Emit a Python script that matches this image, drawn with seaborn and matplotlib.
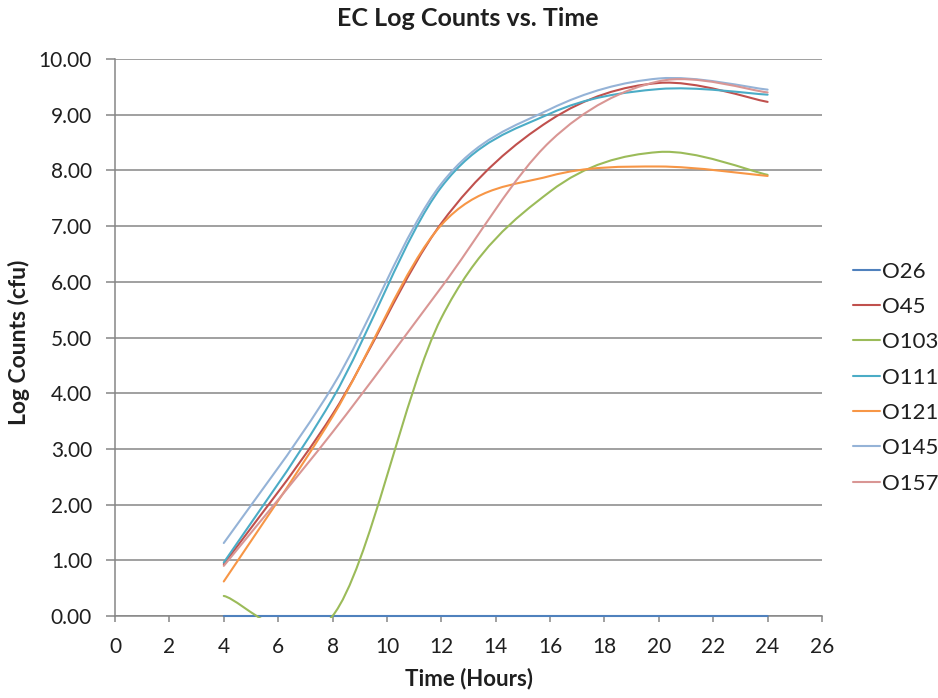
import numpy as np
import pandas as pd
import matplotlib
matplotlib.use("Agg")
import matplotlib.pyplot as plt
import seaborn as sns
from matplotlib.path import Path
from matplotlib.patches import PathPatch, Rectangle
from matplotlib.ticker import FormatStrFormatter, MultipleLocator

# ---------------- data ----------------
time_hours = [4, 8, 12, 16, 20, 24]
strains = ["O26", "O45", "O103", "O111", "O121", "O145", "O157"]
o26 = [0.00, 0.00, 0.00, 0.00, 0.00, 0.00]
o45 = [0.93, 3.62, 7.05, 8.90, 9.57, 9.23]
o103 = [0.36, 0.00, 5.35, 7.62, 8.33, 7.92]
o111 = [0.96, 3.90, 7.70, 9.02, 9.46, 9.36]
o121 = [0.62, 3.58, 7.02, 7.90, 8.07, 7.90]
o145 = [1.31, 4.12, 7.76, 9.10, 9.65, 9.45]
o157 = [0.90, 3.30, 5.90, 8.52, 9.60, 9.40]
series = [o26, o45, o103, o111, o121, o145, o157]

colors = ["#4F81BD", "#C0504D", "#9BBB59", "#4BACC6", "#F79646", "#95B3D7", "#D99694"]

rows = []
for name, vals in zip(strains, series):
    for t, v in zip(time_hours, vals):
        rows.append({"Time": t, "Log": v, "Strain": name})
df = pd.DataFrame(rows)

# ---------------- style ----------------
sns.set_theme(style="white")
plt.rcParams["font.family"] = ["Lato", "DejaVu Sans"]
grey = "#868686"
txt = "#1f1f1f"

fig = plt.figure(figsize=(9.38, 6.98), dpi=100)
L, R, B, T = 115, 822, 616, 59
W, H = 938, 698
ax = fig.add_axes([L / W, 1 - B / H, (R - L) / W, (B - T) / H])

sns.lineplot(data=df, x="Time", y="Log", hue="Strain", hue_order=strains,
             palette=colors, estimator=None, sort=True, linewidth=1.5, ax=ax)


def smooth_path(pts):
    """Excel-style smoothed line: cubic Bezier through the data points."""
    n = len(pts)
    verts = [pts[0]]
    codes = [Path.MOVETO]
    for i in range(n - 1):
        p0 = pts[i - 1] if i > 0 else pts[i]
        p1 = pts[i]
        p2 = pts[i + 1]
        p3 = pts[i + 2] if i + 2 < n else pts[i + 1]
        verts += [p1 + (p2 - p0) / 6.0, p2 - (p3 - p1) / 6.0, p2]
        codes += [Path.CURVE4] * 3
    return Path(np.array(verts), codes)


clip = Rectangle((-1, -0.04), 30, 10.2, transform=ax.transData)
for k, line in enumerate(list(ax.lines)):
    xy = line.get_xydata()
    if len(xy) < 2:
        continue
    patch = PathPatch(smooth_path(xy), fill=False, edgecolor=line.get_color(),
                      lw=line.get_linewidth(), capstyle="round", joinstyle="round",
                      zorder=3 + k * 0.01)
    ax.add_patch(patch)
    patch.set_clip_path(clip)
    line.remove()

ax.set_xlim(0, 26)
ax.set_ylim(0, 10)
ax.xaxis.set_major_locator(MultipleLocator(2))
ax.yaxis.set_major_locator(MultipleLocator(1))
ax.yaxis.set_major_formatter(FormatStrFormatter("%.2f"))
ax.yaxis.grid(True, color=grey, lw=1.1)
ax.xaxis.grid(False)
ax.set_axisbelow(True)
for s in ["top", "right"]:
    ax.spines[s].set_visible(False)
for s in ["left", "bottom"]:
    ax.spines[s].set_color(grey)
    ax.spines[s].set_linewidth(1.1)
ax.tick_params(axis="y", which="major", direction="out", length=6.5, width=1.1,
               color=grey, pad=10, labelsize=15, labelcolor=txt, left=True)
ax.tick_params(axis="x", which="major", direction="out", length=4, width=1.1,
               color=grey, pad=11, labelsize=15, labelcolor=txt, bottom=True)
ax.set_xlabel("")
ax.set_ylabel("")

fig.text(468 / W, 1 - 19 / H, "EC Log Counts vs. Time", ha="center", va="center",
         fontsize=18, fontweight="bold", color=txt)
fig.text(468.5 / W, 1 - 679 / H, "Time (Hours)", ha="center", va="center",
         fontsize=16, fontweight="bold", color=txt)
fig.text(19 / W, 1 - 342 / H, "Log Counts (cfu)", ha="center", va="center",
         rotation=90, fontsize=16.5, fontweight="bold", color=txt)

sns.move_legend(ax, "center left", bbox_to_anchor=(1.044, 0.428), frameon=False,
                title=None, fontsize=16, handlelength=1.22, handletextpad=0.1,
                labelspacing=0.69, borderpad=0, borderaxespad=0)
for h in ax.get_legend().legend_handles:
    h.set_linewidth(1.5)
for t in ax.get_legend().get_texts():
    t.set_color(txt)

fig.savefig("out.png", dpi=100)
